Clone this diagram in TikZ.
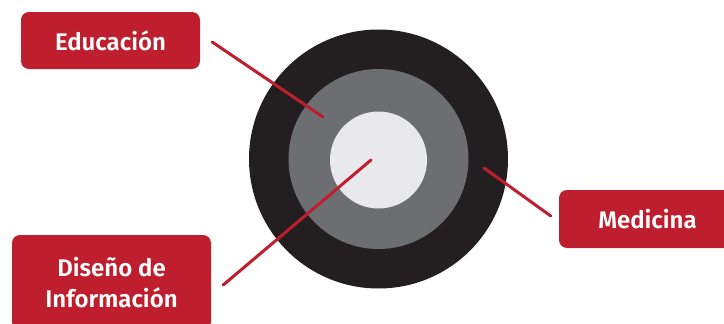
\documentclass[tikz,border=0pt]{standalone}
\usepackage{fontspec}
\setmainfont{Fira Sans}[BoldFont={Fira Sans SemiBold}]
\definecolor{brand}{HTML}{BE1E2D}
\definecolor{ringblack}{HTML}{231F20}
\definecolor{ringgray}{HTML}{6D6E71}
\definecolor{ringlight}{HTML}{E9E9EB}
\begin{document}
\begin{tikzpicture}[
        x=1pt, y=-1pt,
        ring/.style={circle, inner sep=0pt},
        box/.style={fill=brand, rounded corners=8pt, text=white, align=center, inner sep=0pt,
            font=\bfseries\fontsize{24}{31}\selectfont},
        link/.style={draw=brand, line width=3pt, line cap=round},
    ]
    \clip (0,0) rectangle (724,324);
    % target rings
    \node[ring, fill=ringblack, minimum size=259pt](outer) at (378.5,159){};
    \node[ring, fill=ringgray, minimum size=180pt](middle) at (378.5,159){};
    \node[ring, fill=ringlight, minimum size=97pt](inner) at (378.5,160){};
    % labels
    \node[box, minimum width=179pt, minimum height=57pt](edu) at (110.5,40.5){Educación};
    \node[box, minimum width=177pt, minimum height=58pt](med) at (647.5,219){Medicina};
    \node[box, minimum width=199pt, minimum height=95pt](dis) at (111.5,282.5){Diseño de\\Información};
    % connectors
    \coordinate (edu end) at (323,117);
    \coordinate (med end) at (484,168);
    \coordinate (dis end) at (371,160);
    \draw[link] ([xshift=12pt]edu.east |- 0,42) -- (edu end);
    \draw[link] ([xshift=-8pt]med.west |- 0,216) -- (med end);
    \draw[link] ([xshift=12pt]dis.east |- 0,285) -- (dis end);
\end{tikzpicture}
\end{document}
